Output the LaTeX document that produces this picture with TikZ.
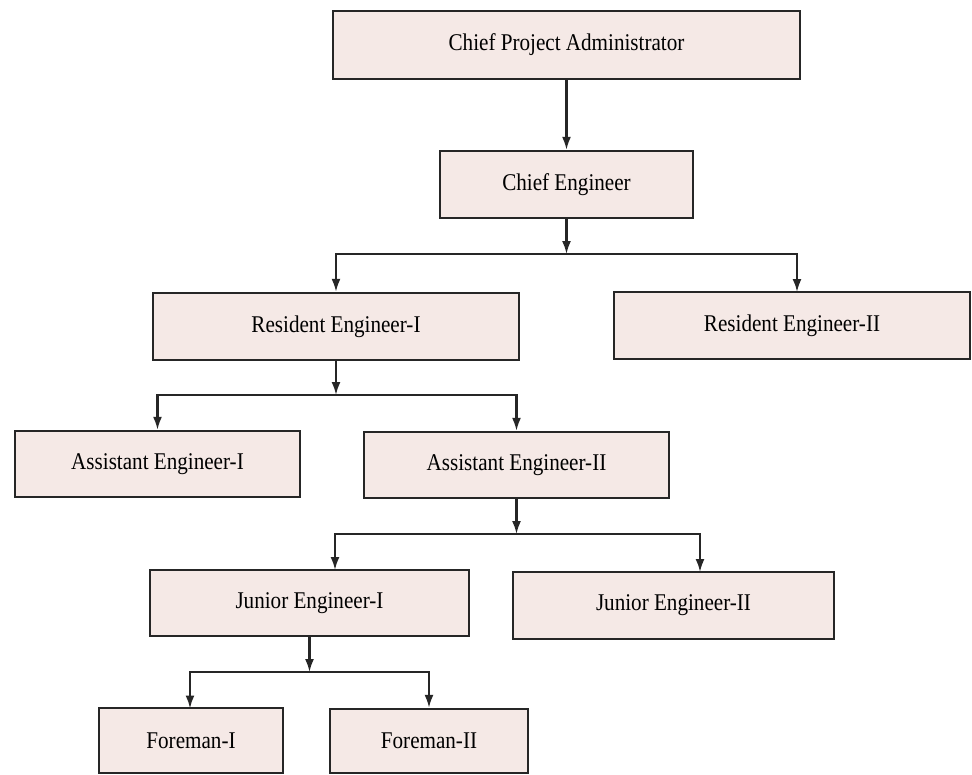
\documentclass[tikz,border=0pt]{standalone}
\usepackage{fontspec}
\setmainfont{Liberation Serif}[FakeStretch=0.88]
\usetikzlibrary{arrows.meta,calc}
\definecolor{boxfill}{RGB}{245,233,230}
\tikzset{
  orgbox/.style={draw=black!85, line width=2.4pt, fill=boxfill, rectangle, inner sep=0pt,
    font=\fontsize{24}{28}\selectfont, text=black},
  link/.style={draw=black!85, line width=2.1pt, -{Latex[length=13pt,width=9pt]}}
}
\begin{document}
\begin{tikzpicture}[x=1pt,y=-1pt]
\useasboundingbox[fill=white] (0,0) rectangle (972,774);
% boxes
\node[orgbox, minimum width=467pt, minimum height=68pt] (cpa) at (566.5,45) {Chief Project Administrator};
\node[orgbox, minimum width=253pt, minimum height=67pt] (ce) at (566.5,184.5) {Chief Engineer};
\node[orgbox, minimum width=366pt, minimum height=67pt] (re1) at (336,326.5) {Resident Engineer-I};
\node[orgbox, minimum width=356pt, minimum height=67pt] (re2) at (792,325.5) {Resident Engineer-II};
\node[orgbox, minimum width=285pt, minimum height=66pt] (ae1) at (157.5,464) {Assistant Engineer-I};
\node[orgbox, minimum width=305pt, minimum height=66pt] (ae2) at (516.5,465) {Assistant Engineer-II};
\node[orgbox, minimum width=319pt, minimum height=66pt] (je1) at (309.5,603) {Junior Engineer-I};
\node[orgbox, minimum width=321pt, minimum height=67pt] (je2) at (673.5,605.5) {Junior Engineer-II};
\node[orgbox, minimum width=184pt, minimum height=65pt] (f1) at (191,740.5) {Foreman-I};
\node[orgbox, minimum width=198pt, minimum height=64pt] (f2) at (429,741) {Foreman-II};
% junction points and entry points
\coordinate (j1) at (566.5,254);
\coordinate (re2in) at (797,292);
\coordinate (j2) at (336,395);
\coordinate (j3) at (516.5,534);
\coordinate (je1in) at (335,570);
\coordinate (je2in) at (700,572);
\coordinate (j4) at (309.5,672);
\coordinate (f1in) at (190,708.5);
% connectors
\draw[link] (cpa.south) -- (ce.north);
\draw[link] (ce.south) -- (j1);
\draw[link] (j1) -| (re1.north);
\draw[link] (j1) -| (re2in);
\draw[link] (re1.south) -- (j2);
\draw[link] (j2) -| (ae1.north);
\draw[link] (j2) -| (ae2.north);
\draw[link] (ae2.south) -- (j3);
\draw[link] (j3) -| (je1in);
\draw[link] (j3) -| (je2in);
\draw[link] (je1.south) -- (j4);
\draw[link] (j4) -| (f1in);
\draw[link] (j4) -| (f2.north);
\end{tikzpicture}
\end{document}
